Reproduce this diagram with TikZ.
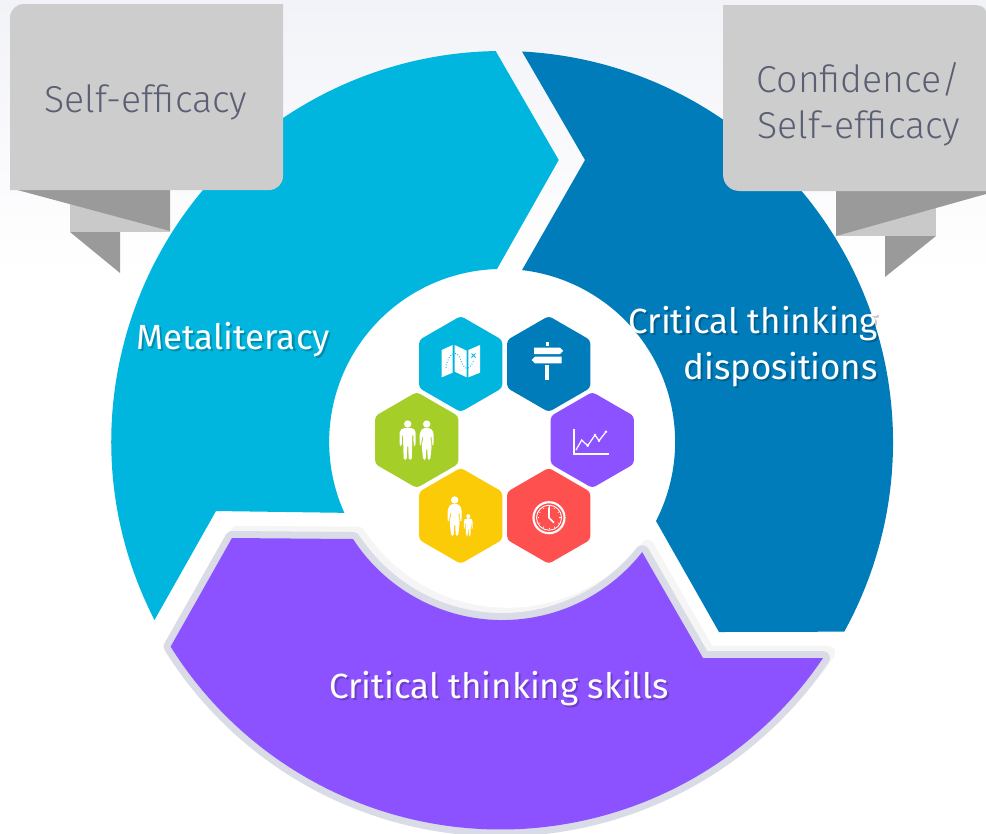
\documentclass[tikz,border=0pt]{standalone}
\usepackage{fontspec}
\setmainfont{Fira Sans}
\newfontfamily\calloutfont{Fira Sans}[UprightFont=* Light]
\usetikzlibrary{shapes.geometric}
\definecolor{metacyan}{HTML}{00B5DE}
\definecolor{dispblue}{HTML}{007CBA}
\definecolor{skillviolet}{HTML}{8C52FF}
\definecolor{skillrim}{HTML}{D9DBE6}
\definecolor{hexgreen}{HTML}{A6CE29}
\definecolor{hexyellow}{HTML}{FACB06}
\definecolor{hexred}{HTML}{FF5050}
\definecolor{flagface}{HTML}{CDCDCD}
\definecolor{flagdark}{HTML}{9A9A9A}
\definecolor{flagstrip}{HTML}{C9C9C9}
\definecolor{flagtext}{HTML}{5A5F73}
\definecolor{skytop}{HTML}{F2F3F8}
\newcommand{\softtext}[1]{\leavevmode\rlap{\pgfsetfillopacity{.22}\color{black}\kern1.2pt\raisebox{-1.2pt}{#1}}\pgfsetfillopacity{1}#1}
\tikzset{
  hexcell/.style={regular polygon, regular polygon sides=6, shape border rotate=30, minimum size=1.92cm, inner sep=0pt, rounded corners=2pt},
  ringlabel/.style={text=white, font=\fontsize{19.9}{26}\selectfont},
  flaglabel/.style={text=flagtext, font=\calloutfont\fontsize{21.3}{26}\selectfont},
  person/.pic={
    \fill[white] (0,-36) circle (3.7);
    \fill[white, rounded corners=1pt] (-5,-32) -- (5,-32) -- (8,-29) -- (8,-14) -- (6,-14) -- (5.5,-26) -- (4.5,-26) -- (4.5,-16) -- (4,0) -- (1,0) -- (0.5,-15) -- (-0.5,-15) -- (-1,0) -- (-4,0) -- (-4.5,-16) -- (-4.5,-26) -- (-5.5,-26) -- (-6,-14) -- (-8,-14) -- (-8,-29) -- cycle;
  },
  lady/.pic={
    \fill[white] (0,-36) circle (3.7);
    \fill[white, rounded corners=1pt] (-4,-32) -- (4,-32) -- (7,-27) -- (7,-15) -- (5.5,-15) -- (4.5,-25) -- (3.5,-23) -- (5,-14) -- (3.5,0) -- (1,0) -- (0.5,-12) -- (-0.5,-12) -- (-1,0) -- (-3.5,0) -- (-5,-14) -- (-3.5,-23) -- (-4.5,-25) -- (-5.5,-15) -- (-7,-15) -- (-7,-27) -- cycle;
  }
}

\begin{document}
\begin{tikzpicture}[x=0.02cm,y=-0.02cm]
	\useasboundingbox (0,0) rectangle (986,833);
	% Backdrop
	\fill[white] (0,0) rectangle (986,833);
	\fill[top color=skytop, bottom color=white] (0,0) rectangle (986,275);

	% Ring
	\fill[metacyan] (154.5,620) arc[start angle=152.8, end angle=269.1, radius=390.5] -- (558.7,160) -- (497,269) arc[start angle=268.3, end angle=155.8, radius=173] -- (216,511) -- cycle;
	\fill[dispblue] (522,51.5) arc[start angle=273, end angle=388.9, radius=391.5] -- (719,632) -- (656,521) arc[start angle=27.2, end angle=-83.4, radius=173] -- (585,160) -- cycle;
	\fill[black, opacity=.04, line join=round, draw=black, line width=0.28cm, transform canvas={shift={(3pt,3pt)}}] (232,538) -- (353,539) arc[start angle=147, end angle=38.2, radius=178] -- (703,658) -- (823,658) arc[start angle=34, end angle=148, radius=389] -- cycle;
	\path[fill=skillviolet, preaction={draw=skillrim, line width=0.28cm, line join=round}] (232,538) -- (353,539) arc[start angle=147, end angle=38.2, radius=178] -- (703,658) -- (823,658) arc[start angle=34, end angle=148, radius=389] -- cycle;

	% Hexagons
	\node[hexcell, fill=metacyan] (maphex) at (460.7,364) {};
	\node[hexcell, fill=dispblue] (signhex) at (548.7,364) {};
	\node[hexcell, fill=skillviolet] (charthex) at (592.3,440) {};
	\node[hexcell, fill=hexgreen] (couplehex) at (416.7,440) {};
	\node[hexcell, fill=hexyellow] (familyhex) at (460.7,515.8) {};
	\node[hexcell, fill=hexred] (clockhex) at (548.7,515.8) {};

	% Map icon
	\fill[white] (441.7,350) -- (452.7,345) -- (452.7,372.7) -- (441.7,377.3) -- cycle;
	\fill[white] (454.7,345) -- (466.7,350.7) -- (466.7,377.3) -- (454.7,371.7) -- cycle;
	\fill[white] (468.3,350) -- (480,345) -- (480,372.7) -- (468.3,377.3) -- cycle;
	\draw[metacyan, line width=0.5pt, densely dotted] (446,368) .. controls (448,352) and (457,350) .. (460,358) .. controls (463,368) and (468,374) .. (474,360);
	\draw[metacyan, line width=0.5pt] (471.5,353.5) -- (475.5,357.5) (475.5,353.5) -- (471.5,357.5);

	% Signpost icon
	\fill[white] (546,342) rectangle (549.3,346);
	\fill[white] (534,347.5) -- (560,347.5) -- (563.3,350.8) -- (560,354) -- (534,354) -- cycle;
	\fill[white] (535,356.7) -- (561.7,356.7) -- (561.7,363.3) -- (535,363.3) -- (531.7,360) -- cycle;
	\fill[white] (545.3,365) rectangle (549,380);

	% Chart icon
	\draw[white, line width=1pt] (574,429.3) -- (574,454) -- (609,454);
	\draw[white, line width=0.7pt] (576,450) -- (581.7,440) -- (587.7,445.7) -- (595,435) -- (599,440.7) -- (606,431.7);
	\foreach \px/\py in {587.7/445.7, 595/435, 599/440.7, 606/431.7}
		\fill[white] (\px,\py) circle (1.4);

	% People icons
	\pic at (407.7,460) {person};
	\pic at (426.7,460) {lady};
	\pic at (454.7,536) {lady};
	\pic[scale=.55] at (468.3,536) {person};

	% Clock icon
	\draw[white, line width=1.2pt] (549,517.7) circle (15.5);
	\draw[white, line width=0.5pt] (549,517.7) circle (12.5);
	\foreach \tick in {0,30,...,330}
		\draw[white, line width=0.3pt] ([shift={(\tick:10)}]549,517.7) -- ([shift={(\tick:11.5)}]549,517.7);
	\draw[white, line width=0.9pt] (549,507.3) -- (549,517.7) -- (554,522.7);

	% Left flag
	\fill[flagstrip] (70,204) rectangle (170,232);
	\fill[flagdark] (10,188) -- (170,188) -- (170,231) -- cycle;
	\fill[flagdark] (70,232) -- (120,232) -- (120,273) -- cycle;
	\fill[flagface] (10,190) -- (10,18) .. controls (10,10) and (16,4) .. (24,4) -- (283,4) -- (283,176) .. controls (283,184) and (277,190) .. (269,190) -- cycle;

	% Right flag
	\fill[flagstrip] (836,208) rectangle (936,236);
	\fill[flagdark] (836,190) -- (986,190) -- (986,194) -- (836,236) -- cycle;
	\fill[flagdark] (885,236) -- (936,236) -- (885,277) -- cycle;
	\fill[flagface] (723,5) -- (975,5) .. controls (981,5) and (986,8) .. (986,12) -- (986,191) -- (740,191) .. controls (730,191) and (723,184) .. (723,174) -- cycle;

	% Labels
	\node[ringlabel] (metaliteracy) at (233,341) {\softtext{Metaliteracy}};
	\node[ringlabel, align=right, anchor=east] (dispositions) at (884,347.5) {\softtext{Critical thinking}\\\softtext{dispositions}};
	\node[ringlabel] (skills) at (499,690) {\softtext{Critical thinking skills}};
	\node[flaglabel] (leftflag) at (146,102) {Self-efficacy};
	\node[flaglabel, align=center] (rightflag) at (859,104) {Confidence/\\Self-efficacy};
\end{tikzpicture}
\end{document}
